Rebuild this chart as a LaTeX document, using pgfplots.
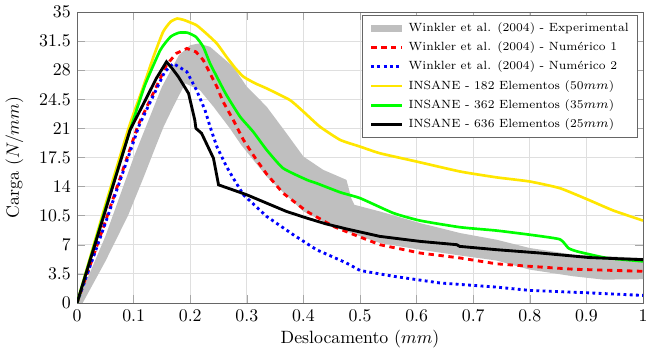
\documentclass[border=0pt]{standalone}
\usepackage{pgfplots}
\pgfplotsset{compat=1.18}
\definecolor{myyellow}{RGB}{255,230,0}
\begin{document}
\begin{tikzpicture}
\begin{axis}[
  scale only axis,
  width=318pt, height=163.5pt,
  xmin=0, xmax=1, ymin=0, ymax=35,
  xtick={0,0.1,0.2,0.3,0.4,0.5,0.6,0.7,0.8,0.9,1},
  ytick={0,3.5,7,10.5,14,17.5,21,24.5,28,31.5,35},
  yticklabels={0,3.5,7,10.5,14,17.5,21,24.5,28,31.5,35},
  xticklabels={0,0.1,0.2,0.3,0.4,0.5,0.6,0.7,0.8,0.9,1},
  grid=major,
  major grid style={gray!25, line width=0.4pt},
  axis line style={gray!80!black},
  tick style={gray!70},
  xlabel={Deslocamento ($mm$)},
  ylabel={Carga ($N/mm$)},
  xlabel style={yshift=2pt},
  ylabel style={yshift=2pt},
  legend cell align=left,
  legend style={at={(0.991,0.99)}, anchor=north east, font=\fontsize{6.7}{8}\selectfont,
    draw=gray!80!black, row sep=0.3pt},
]
\coordinate (ll) at (rel axis cs:0,0);
\coordinate (ur) at (rel axis cs:1,1);
% Experimental band
\addplot[fill=gray!50, draw=none, forget plot] coordinates {
(0,0) (0.05,8) (0.1,17.5) (0.15,26) (0.18,29.8) (0.2,31) (0.215,31.2) (0.235,30.8)
(0.276,28.4) (0.300,26.0) (0.335,23.6) (0.370,20.4) (0.400,17.6) (0.435,16.0) (0.476,14.8)
(0.485,12.5) (0.49,11.8) (0.535,11.0) (0.606,9.6) (0.677,8.4) (0.741,7.6) (0.8,6.6)
(0.877,5.8) (1.0,5.4)
(1.0,2.85) (0.93,2.8) (0.877,3.2) (0.8,4.0) (0.741,5.1) (0.677,5.7) (0.606,6.4) (0.535,7.2)
(0.48,8.5) (0.453,9.2) (0.4,11) (0.335,15.2) (0.29,19) (0.270,21) (0.241,23.6) (0.217,25.6)
(0.191,26.4) (0.17,23.6) (0.153,21.2) (0.14,19) (0.117,15) (0.09,10.5) (0.05,5) (0.01,0)
};
\addlegendimage{gray!50, line width=4pt}
\addlegendentry{Winkler et al. (2004) - Experimental}
% Numerico 1
\addplot[red, line width=1.6pt, dash pattern=on 3pt off 2.6pt] coordinates {
(0,0) (0.05,9.8) (0.108,21.4) (0.129,24.4) (0.158,28.6) (0.175,30.0) (0.194,30.6) (0.21,30.2)
(0.223,29.2) (0.235,27.6) (0.247,26.0) (0.258,24.2) (0.276,22.0) (0.294,19.6) (0.317,17.2)
(0.335,15.5) (0.364,13.2) (0.406,11.0) (0.453,9.2) (0.482,8.4) (0.535,7.0) (0.606,6.0)
(0.677,5.4) (0.741,4.7) (0.8,4.4) (0.877,4.05) (1.0,3.8)
};
\addlegendentry{Winkler et al. (2004) - Num\'erico 1}
% Numerico 2
\addplot[blue, line width=1.6pt, dash pattern=on 1.6pt off 1.9pt] coordinates {
(0,0) (0.05,9.6) (0.11,21.4) (0.131,24.4) (0.155,27.8) (0.17,28.8) (0.194,27.8) (0.211,25.6)
(0.226,23.2) (0.235,21.2) (0.247,18.8) (0.264,16.4) (0.276,15.0) (0.294,13.0) (0.335,10.4)
(0.382,8.2) (0.423,6.4) (0.476,4.8) (0.5,3.9) (0.559,3.2) (0.641,2.4) (0.741,1.9) (0.8,1.5)
(0.906,1.2) (1.0,0.9)
};
\addlegendentry{Winkler et al. (2004) - Num\'erico 2}
% INSANE 182
\addplot[myyellow, line width=1.5pt, smooth, tension=0.3] coordinates {
(0,0) (0.045,10.6) (0.092,21.2) (0.115,25.6) (0.135,29.6) (0.152,32.6) (0.165,33.8) (0.177,34.2)
(0.19,34.0) (0.211,33.4) (0.23,32.3) (0.247,31.2) (0.264,29.6) (0.28,28.2) (0.294,27.2)
(0.315,26.4) (0.335,25.8) (0.376,24.4) (0.4,23.0) (0.429,21.2) (0.465,19.6) (0.5,18.8)
(0.535,18.0) (0.6,17.0) (0.677,15.8) (0.741,15.1) (0.8,14.6) (0.853,13.8) (0.9,12.5)
(0.948,11.1) (1.0,9.9)
};
\addlegendentry{INSANE - 182 Elementos (50$mm$)}
% INSANE 362
\addplot[green, line width=1.5pt, smooth, tension=0.3] coordinates {
(0,0) (0.045,10.2) (0.0966,21.4) (0.12,26.2) (0.147,30.4) (0.165,32.0) (0.18,32.5) (0.195,32.5)
(0.21,32.0) (0.223,30.8) (0.235,28.8) (0.250,26.8) (0.264,25.0) (0.288,22.4) (0.311,20.6)
(0.335,18.4) (0.364,16.2) (0.406,14.8) (0.423,14.4) (0.465,13.3) (0.5,12.6) (0.559,10.8)
(0.606,9.9) (0.677,9.1) (0.741,8.7) (0.8,8.2) (0.853,7.65) (0.868,6.6) (0.883,6.2)
(0.936,5.4) (1.0,5.0)
};
\addlegendentry{INSANE - 362 Elementos (35$mm$)}
% INSANE 636
\addplot[black, line width=1.6pt] coordinates {
(0,0) (0.05,11.1) (0.0936,20.8) (0.12,24.3) (0.14,27.0) (0.158,29.0) (0.168,28.2) (0.179,27.2)
(0.197,25.2) (0.208,22.0) (0.210,21.0) (0.220,20.4) (0.241,17.4) (0.250,14.2) (0.275,13.6)
(0.300,13.0) (0.335,12.0) (0.37,11.0) (0.406,10.2) (0.44,9.5) (0.476,8.9) (0.535,8.0)
(0.606,7.4) (0.671,7.0) (0.676,6.8) (0.741,6.4) (0.818,6.0) (0.906,5.45) (1.0,5.2)
};
\addlegendentry{INSANE - 636 Elementos (25$mm$)}
\end{axis}
\pgfresetboundingbox
\path ([xshift=-43.3pt,yshift=-25.8pt]ll) rectangle ([xshift=2.8pt,yshift=6.7pt]ur);
\end{tikzpicture}
\end{document}
